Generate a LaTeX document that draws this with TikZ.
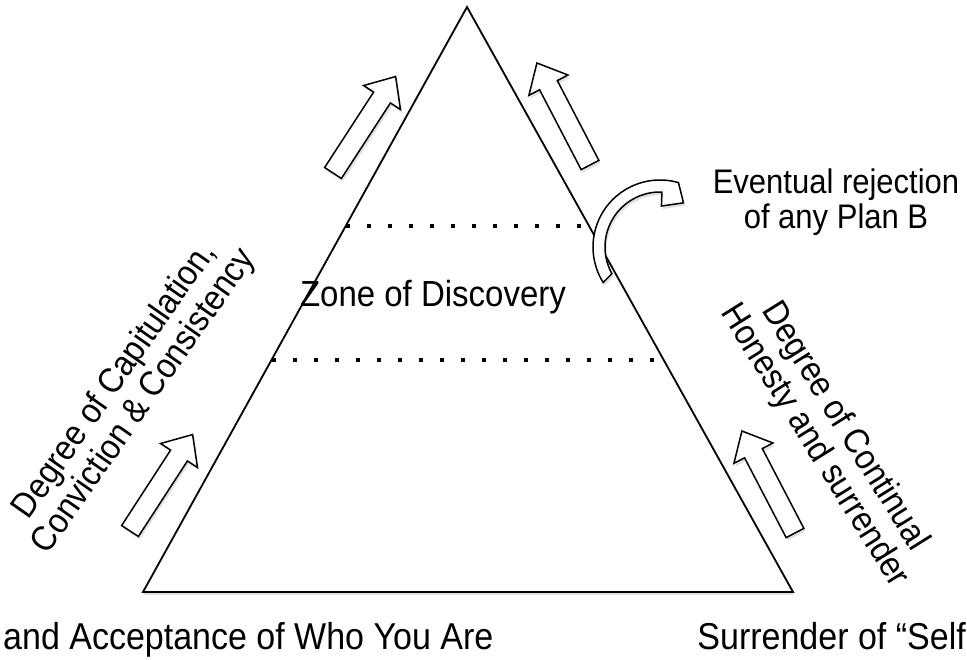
\documentclass[tikz,border=0pt]{standalone}
\usepackage{graphicx}
\usepackage{fontspec}
\setmainfont{Liberation Sans}
\usetikzlibrary{shadows}
\newcommand\vtxt[1]{\scalebox{1}[1.1]{\begin{tabular}{@{}c@{}}#1\end{tabular}}}
\begin{document}
\begin{tikzpicture}[x=1pt,y=-1pt,
  tri/.style={draw=black, fill=white, line width=1.8pt, line join=miter,
    drop shadow={shadow xshift=0.5pt, shadow yshift=-3pt, fill=black!30, opacity=0.4}},
  barrow/.style={draw=black, fill=white, line width=1.5pt, line join=miter,
    drop shadow={shadow xshift=1.5pt, shadow yshift=-3pt, fill=black!30, opacity=0.4}},
  dotline/.style={line width=4pt, dash pattern=on 4pt off 17pt},
  lbl/.style={font=\fontsize{32}{31}\selectfont, inner sep=0pt},
  blockarrow/.pic={\path[barrow] (0,-10) -- (90,-10) -- (90,-22) -- (115,0) -- (90,22) -- (90,10) -- (0,10) -- cycle;}
]
\useasboundingbox (0,0) rectangle (967,660);

% triangle
\coordinate (apex) at (467,7);
\coordinate (bl) at (143,592);
\coordinate (br) at (793,592);
\path[tri] (apex) -- (br) -- (bl) -- cycle;

% dotted zone lines
\coordinate (u1) at (346,226);
\coordinate (u2) at (588,226);
\coordinate (d1) at (272,360);
\coordinate (d2) at (662,360);
\draw[dotline] (u1) -- (u2);
\draw[dotline] (d1) -- (d2);

% texts
\node[lbl, font=\fontsize{33}{31}\selectfont] (zone) at (433,298) {\vtxt{Zone of Discovery}};
\node[lbl, font=\fontsize{31}{31}\selectfont] (plan) at (836,204) {\vtxt{Eventual rejection\\of any Plan B}};
\node[lbl, rotate=55] (ltext) at (131,392) {\vtxt{Degree of Capitulation,\\Conviction \& Consistency}};
\node[lbl, rotate=-58] (rtext) at (828,437) {\vtxt{Degree of Continual\\Honesty and surrender}};
\node[lbl, font=\fontsize{34}{31}\selectfont, anchor=base west] (acc) at (3,649) {\scalebox{1}[1.1]{and Acceptance of Who You Are}};
\node[lbl, font=\fontsize{34}{31}\selectfont, anchor=base east] (surr) at (966,649) {\scalebox{1}[1.1]{Surrender of “Self}};

% block arrows
\pic[rotate=57] at (130,531) {blockarrow};
\pic[rotate=57] at (333,173) {blockarrow};
\pic[rotate=117.5] at (590,165) {blockarrow};
\pic[rotate=117.5] at (795,533) {blockarrow};

% curved arrow
\path[barrow] plot[domain=148:286, samples=40] ({660+67*cos(\x)},{247+67*sin(\x)})
  -- ({660+50*cos(298)},{247+50*sin(298)})
  -- ({660+41*cos(272)},{247+41*sin(272)})
  -- ({660+55*cos(272)},{247+55*sin(272)})
  -- plot[domain=272:151, samples=40] ({660+55*cos(\x)},{247+55*sin(\x)})
  -- cycle;
\end{tikzpicture}
\end{document}
